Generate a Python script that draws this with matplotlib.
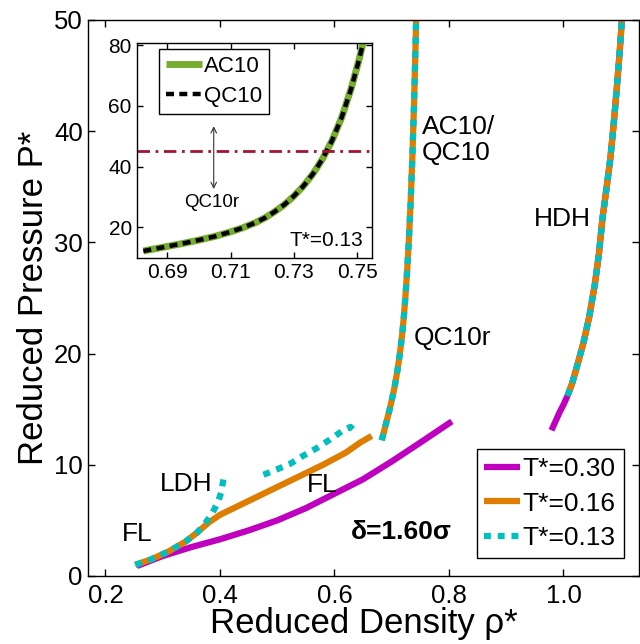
import numpy as np
import matplotlib
matplotlib.use('Agg')
import matplotlib.pyplot as plt

plt.rcParams['font.family'] = ['Liberation Sans', 'DejaVu Sans']

# colours
c30 = '#bf00bf'
c16 = '#de7d00'
c13 = '#00bfbf'
cAC = '#77ac30'
cRef = '#a2142f'

# T*=0.30 fluid branch
fl30_rho = [0.255, 0.28, 0.30, 0.35, 0.40, 0.45, 0.50, 0.55, 0.60, 0.65, 0.70, 0.75, 0.805]
fl30_p = [0.9, 1.4, 1.8, 2.6, 3.3, 4.1, 5.0, 6.1, 7.4, 8.7, 10.3, 12.0, 13.9]

# T*=0.16 fluid branch
fl16_rho = [0.252, 0.28, 0.31, 0.34, 0.36, 0.38, 0.40, 0.42, 0.46, 0.50, 0.54, 0.58, 0.62, 0.645, 0.665]
fl16_p = [1.0, 1.5, 2.2, 3.1, 3.9, 4.8, 5.5, 6.0, 7.0, 8.0, 9.0, 10.0, 11.1, 12.0, 12.6]

# T*=0.13 low density branch (up to LDH) and fluid branch
ldh13_rho = [0.252, 0.28, 0.31, 0.34, 0.36, 0.375, 0.387, 0.396, 0.402, 0.406]
ldh13_p = [1.0, 1.5, 2.2, 3.1, 3.9, 4.8, 5.7, 6.6, 7.5, 8.7]
fl13_rho = [0.476, 0.50, 0.523, 0.545, 0.569, 0.59, 0.604, 0.618, 0.628, 0.632]
fl13_p = [9.1, 9.6, 10.1, 10.8, 11.5, 12.2, 12.7, 13.2, 13.4, 13.2]

# AC10 / QC10 crystal branch (same for T*=0.16 and 0.13)
ac10_rho = [0.6825, 0.686, 0.690, 0.695, 0.700, 0.705, 0.710, 0.714, 0.718, 0.721,
            0.724, 0.727, 0.730, 0.733, 0.736, 0.739, 0.742, 0.745, 0.748, 0.7505, 0.752]
ac10_p = [12.2, 12.9, 13.7, 14.7, 15.8, 17.0, 18.5, 19.9, 21.6, 23.2,
          25.2, 27.5, 30.3, 33.6, 37.6, 42.5, 48.5, 56.0, 65.5, 75.0, 81.5]

# HDH branch
hdh30_rho = [0.979, 0.986, 0.993, 1.0, 1.007]
hdh30_p = [13.1, 13.9, 14.7, 15.4, 16.2]
hdh_rho = [1.007, 1.015, 1.025, 1.035, 1.045, 1.055, 1.062, 1.068, 1.075, 1.082,
           1.088, 1.093, 1.098, 1.102]
hdh_p = [16.2, 17.3, 19.1, 21.0, 23.3, 26.3, 29.0, 32.1, 34.8, 37.6,
         40.8, 43.8, 47.0, 50.0]

qc10r_p = 45.0

fig = plt.figure(figsize=(6.4, 6.44), dpi=100)
ax = fig.add_axes([0.138, 0.1056, 0.8605, 0.8634])

lw = 4.5
dots = (1.1, 1.1)
ax.plot(fl30_rho, fl30_p, color=c30, lw=lw, solid_capstyle='butt', label='T*=0.30')
ax.plot(hdh30_rho + hdh_rho, hdh30_p + hdh_p, color=c30, lw=lw, solid_capstyle='butt')
ax.plot(fl16_rho, fl16_p, color=c16, lw=lw, solid_capstyle='butt', label='T*=0.16')
ax.plot(ac10_rho, ac10_p, color=c16, lw=lw, solid_capstyle='butt')
ax.plot(hdh_rho, hdh_p, color=c16, lw=lw, solid_capstyle='butt')
ax.plot(ldh13_rho, ldh13_p, color=c13, lw=lw, dashes=dots, label='T*=0.13')
ax.plot(fl13_rho, fl13_p, color=c13, lw=lw, dashes=dots)
ax.plot(ac10_rho, ac10_p, color=c13, lw=lw, dashes=dots)
ax.plot(hdh_rho, hdh_p, color=c13, lw=lw, dashes=dots)

ax.set_xlim(0.17, 1.132)
ax.set_ylim(0, 50)
ax.set_xticks([0.2, 0.4, 0.6, 0.8, 1.0])
ax.set_xticklabels(['0.2', '0.4', '0.6', '0.8', '1.0'])
ax.set_yticks([0, 10, 20, 30, 40, 50])
ax.tick_params(direction='in', top=True, right=True, length=5, width=1, labelsize=18.5)
ax.tick_params(axis='x', pad=6)
ax.tick_params(axis='y', pad=4)
for s in ax.spines.values():
    s.set_linewidth(1.0)
ax.set_xlabel('Reduced Density ρ*', fontsize=25, labelpad=-1)
ax.set_ylabel('Reduced Pressure P*', fontsize=25, labelpad=3)

tfs = 19
ax.text(0.229, 3.8, 'FL', fontsize=tfs, va='center')
ax.text(0.2955, 8.3, 'LDH', fontsize=tfs, va='center')
ax.text(0.552, 8.2, 'FL', fontsize=tfs, va='center')
ax.text(0.738, 21.4, 'QC10r', fontsize=tfs, va='center')
ax.text(0.7525, 39.2, 'AC10/\nQC10', fontsize=tfs, va='center', linespacing=1.1)
ax.text(0.9476, 32.1, 'HDH', fontsize=tfs, va='center')
ax.text(0.628, 4.0, 'δ=1.60σ', fontsize=19, fontweight='bold', va='center')

leg = ax.legend(loc='upper left', bbox_to_anchor=(0.705, 0.228), borderaxespad=0,
                fontsize=19, handlelength=1.33, handletextpad=0.12, labelspacing=0.4,
                borderpad=0.3, fancybox=False, edgecolor='black', framealpha=1)
leg.get_frame().set_linewidth(1.0)

# inset: zoom on the AC10/QC10 branch at T*=0.13
ins = fig.add_axes([0.2136, 0.5989, 0.368, 0.3339])
ins.plot(ac10_rho, ac10_p, color=cAC, lw=5, solid_capstyle='butt', label='AC10')
ins.plot(ac10_rho, ac10_p, color='black', lw=3.2, dashes=(1.8, 1.2), label='QC10')
ins.axhline(qc10r_p, color=cRef, lw=2, dashes=(4.5, 2, 1, 2))
ins.annotate('', xy=(0.7047, 54.2), xytext=(0.7047, 31.7),
             arrowprops=dict(arrowstyle='<->', color='#333333', lw=0.8))
ins.text(0.7042, 28.1, 'QC10r', fontsize=13.5, ha='center', va='center')
ins.text(0.7518, 15.8, 'T*=0.13', fontsize=15, ha='right', va='center')
ins.set_xlim(0.6804, 0.7547)
ins.set_ylim(9.8, 80.6)
ins.set_xticks([0.69, 0.71, 0.73, 0.75])
ins.set_xticklabels(['0.69', '0.71', '0.73', '0.75'])
ins.set_yticks([20, 40, 60, 80])
ins.tick_params(direction='in', top=True, right=True, length=4, width=1, labelsize=15)
for s in ins.spines.values():
    s.set_linewidth(1.0)
ileg = ins.legend(loc='upper left', bbox_to_anchor=(0.096, 0.972), borderaxespad=0,
                  fontsize=16, handlelength=1.6, handletextpad=0.1, labelspacing=0.4,
                  borderpad=0.3, fancybox=False, edgecolor='black', framealpha=1)
ileg.get_frame().set_linewidth(1.0)

fig.savefig('out.png', dpi=100)
